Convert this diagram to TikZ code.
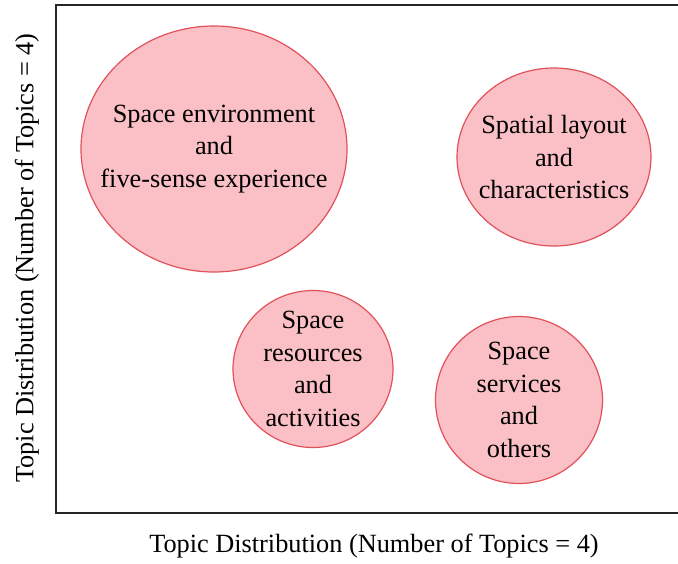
\documentclass[tikz,border=0pt]{standalone}
\usepackage{fontspec}
\setmainfont{Liberation Serif}
\usepackage{tikz}
\usetikzlibrary{shapes.geometric}

\definecolor{topicfill}{RGB}{250,192,197}
\definecolor{topicline}{RGB}{226,80,90}

\begin{document}
\begin{tikzpicture}[x=1pt, y=-1pt, align=center,
    every node/.style={font=\fontsize{26.3}{32.5}\selectfont},
    topic/.style={draw=topicline, fill=topicfill, line width=1.2pt, ellipse, inner sep=0pt}]
\useasboundingbox (0,0) rectangle (678,563);

% axes frame, open to the right
\draw[line width=2.6pt, black!85] (56,5) rectangle (700,513);

\node (env) [topic, minimum width=266pt, minimum height=246pt] at (214,149) {};
\node (layout) [topic, minimum width=194pt, minimum height=178pt] at (554,157) {};
\node (envtext) at (env.center) {Space environment\\and\\five-sense experience};
\node (layouttext) at (layout.center) {Spatial layout\\and\\characteristics};

% -------------------------------

\node (res) [topic, minimum width=160pt, minimum height=157pt] at (313,369) {};
\node (serv) [topic, minimum width=167pt, minimum height=167pt] at (519,400) {};
\node (restext) at (res.center) {Space\\resources\\and\\activities};
\node (servtext) at (serv.center) {Space\\services\\and\\others};

% axis titles
\node (xlab) at (374,546) {Topic Distribution (Number of Topics = 4)};
\node (ylab) [rotate=90] at (27,258) {Topic Distribution (Number of Topics = 4)};
\end{tikzpicture}
\end{document}
